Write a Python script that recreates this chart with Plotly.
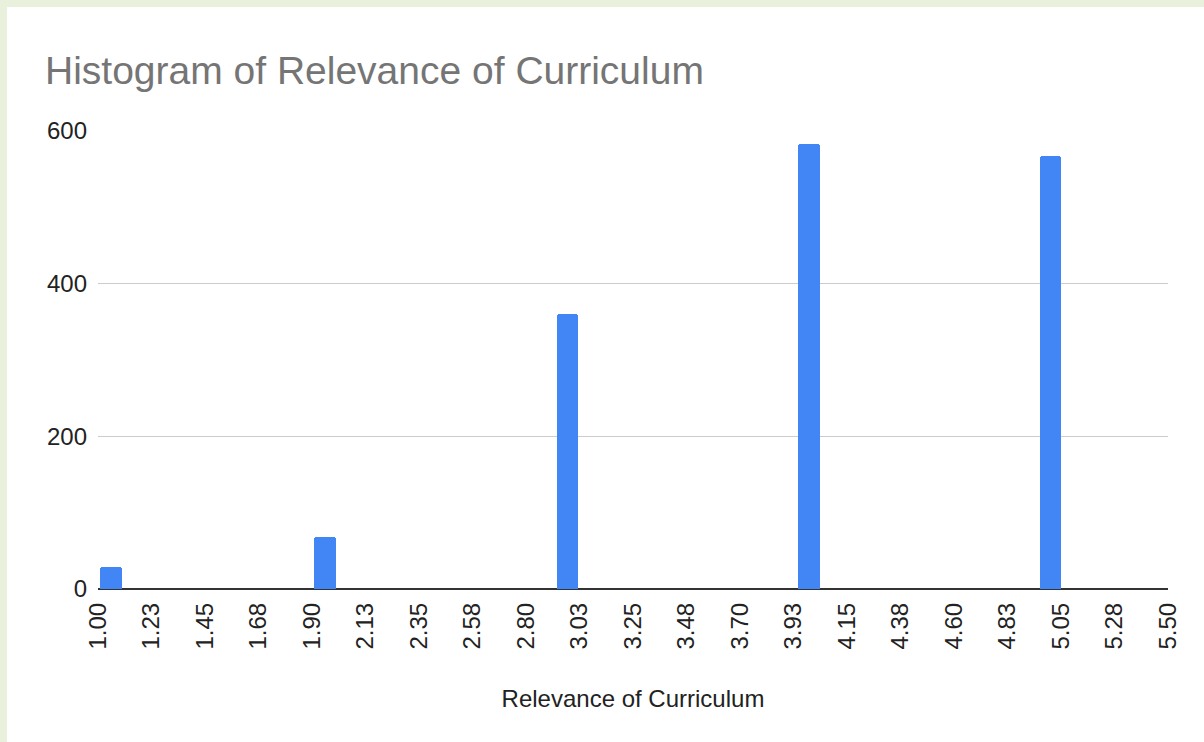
import plotly.graph_objects as go

# Histogram buckets
bucket_start = [1.01, 1.91, 2.93, 3.945, 4.96]
bucket_count = [29, 68, 360, 583, 567]
bucket_size = 0.09

tick_labels = [
    "1.00", "1.23", "1.45", "1.68", "1.90", "2.13", "2.35", "2.58", "2.80", "3.03",
    "3.25", "3.48", "3.70", "3.93", "4.15", "4.38", "4.60", "4.83", "5.05", "5.28", "5.50",
]
tick_vals = [1.0 + 0.225 * i for i in range(len(tick_labels))]
y_ticks = [0, 200, 400, 600]

FONT = "Liberation Sans, Arial, sans-serif"
W, H = 1204, 742
L, R, T, B = 98, 36, 131, 153

fig = go.Figure(go.Bar(
    x=bucket_start, y=bucket_count, width=bucket_size, offset=0,
    marker=dict(color="#4285f4", cornerradius=3, line=dict(width=0)),
    hoverinfo="y",
))

pw, ph = W - L - R, H - T - B


def px_x(p):
    return (p - L) / pw


def px_y(p):
    return (H - B - p) / ph


# white card over the pale green page border
fig.add_shape(
    type="rect", xref="paper", yref="paper", layer="below",
    x0=px_x(7), x1=px_x(W + 10), y0=px_y(H + 10), y1=px_y(7),
    fillcolor="white", line=dict(width=0),
)

fig.update_layout(
    width=W, height=H,
    margin=dict(l=L, r=R, t=T, b=B),
    paper_bgcolor="#e9f1dd", plot_bgcolor="white",
    font=dict(family=FONT, size=24, color="#333333"),
    title=dict(
        text="Histogram of Relevance of Curriculum",
        x=45 / W, xanchor="left", xref="container",
        y=1 - 70 / H, yanchor="middle", yref="container",
        font=dict(family=FONT, size=39, color="#757575"),
    ),
    showlegend=False, bargap=0,
    xaxis=dict(
        range=[1.0, 5.5], tickvals=tick_vals, ticktext=tick_labels,
        tickangle=-90, showgrid=False, zeroline=False,
        showline=False, ticks="", ticklabelstandoff=8,
        tickfont=dict(size=24, color="#222222"),
        title=dict(text="Relevance of Curriculum", standoff=41,
                   font=dict(size=24, color="#222222")),
    ),
    yaxis=dict(
        range=[0, 600], tickvals=y_ticks, showgrid=True,
        gridcolor="#cccccc", gridwidth=1,
        zeroline=True, zerolinecolor="#333333", zerolinewidth=2,
        showline=False, ticks="", ticklabelstandoff=10,
        tickfont=dict(size=24, color="#222222"),
    ),
)

# drop the browser's default 8px body margin so the figure fills the window
fig.write_html(
    "out.html",
    config={"displayModeBar": False},
    post_script="document.body.style.margin = '0';",
)
